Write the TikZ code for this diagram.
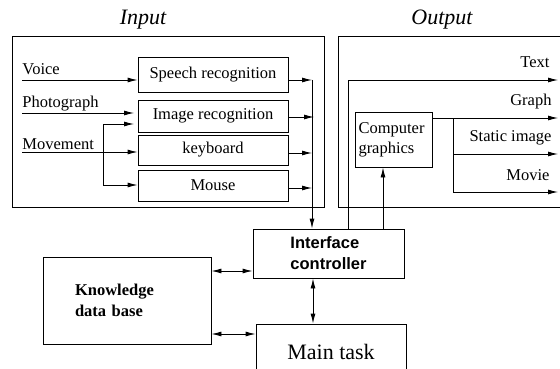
\documentclass[tikz,border=0pt]{standalone}
\usepackage{fontspec}
\setmainfont{Liberation Serif}
\setsansfont{Liberation Sans}
\usetikzlibrary{arrows.meta}
\begin{document}
\begin{tikzpicture}[x=1pt,y=-1pt, line width=0.9pt,
  >={Latex[length=10pt,width=5pt]},
  box/.style={draw, inner sep=0pt, minimum width=150pt},
  lbl/.style={inner sep=0pt, font=\fontsize{16.5}{20}\selectfont},
  ttl/.style={inner sep=0pt, font=\fontsize{22}{26}\selectfont\itshape}]
\useasboundingbox (0,0) rectangle (560,369);

% titles
\node[ttl] (tin) at (143,20) {Input};
\node[ttl] (tout) at (442,20) {Output};

% frames
\node[draw, inner sep=0pt, minimum width=312pt, minimum height=171pt] (inbox) at (168,121.5) {};
\coordinate (oa) at (570,36); \coordinate (ob) at (338,36);
\coordinate (oc) at (338,207); \coordinate (od) at (570,207);
\draw (oa) -- (ob) -- (oc) -- (od);

% input boxes
\node[box, lbl, minimum height=35pt] (speech) at (213,74.5) {Speech recognition};
\node[box, lbl, minimum height=32pt] (image) at (213,116) {Image recognition};
\node[box, lbl, minimum height=30pt] (keyb) at (213,150) {keyboard};
\node[box, lbl, minimum height=31pt] (mouse) at (213,185.5) {Mouse};

% input labels
\node[lbl, anchor=base west] (voice) at (22,75) {Voice};
\node[lbl, anchor=base west] (photo) at (22,107) {Photograph};
\node[lbl, anchor=base west] (move) at (22,149) {Movement};

% central boxes
\node[draw, inner sep=0pt, minimum width=151pt, minimum height=49pt, align=left,
      font=\sffamily\bfseries\fontsize{16.5}{21}\selectfont] (ic) at (328.5,253.5) {Interface\\controller};
\node[draw, inner sep=0pt, minimum width=168pt, minimum height=87pt, text width=104pt, align=left,
      font=\bfseries\fontsize{16.5}{21}\selectfont] (kb) at (127,300.5) {Knowledge\\data base};
\node[draw, inner sep=0pt, minimum width=150pt, minimum height=56pt,
      font=\fontsize{22}{26}\selectfont] (main) at (331,352) {Main task};
\node[draw, lbl, minimum width=77pt, minimum height=55pt, text width=70pt, align=left] (cg) at (393.5,139.5) {Computer\\graphics};

% input arrows
\coordinate (v0) at (22,80);
\draw[->] (v0) -- (v0 -| speech.west);
\coordinate (p0) at (22,113);
\coordinate (p1) at (134,113);
\draw[->] (p0) -- (p1);
\coordinate (m0) at (22,152);
\draw[->] (m0) -- (m0 -| keyb.west);
\coordinate (bt) at (103,124); \coordinate (bb) at (103,185);
\coordinate (bi) at (134,124);
\draw[<->] (bi) -- (bt) -- (bb) -- (bb -| mouse.west);

% collector
\coordinate (ctop) at (312,80);
\draw[->] (ctop) -- (ctop |- ic.north);
\coordinate (so) at ([yshift=-5.5pt]speech.east);
\coordinate (io) at ([yshift=-1pt]image.east);
\coordinate (ko) at ([yshift=-3pt]keyb.east);
\coordinate (mo) at ([yshift=-2.5pt]mouse.east);
\draw[->] (so) -- (so -| ctop);
\draw[->] (io) -- ([xshift=2pt]io -| ctop);
\draw[->] (ko) -- (ko -| ctop);
\draw[->] (mo) -- (mo -| ctop);

% output arrows
\coordinate (tx) at (348,80); \coordinate (tend) at (558,80);
\draw[->] (tx |- ic.north) -- (tx) -- (tend);
\coordinate (cgx) at (383,200);
\draw[->] (cgx |- ic.north) -- (cgx |- cg.south);
\coordinate (gend) at (558,118);
\draw[->] (cg.east |- gend) -- (gend);
\coordinate (bx) at (453,118); \coordinate (send) at (558,154); \coordinate (mend) at (558,192);
\draw[->] (bx) -- (bx |- mend) -- (mend);
\draw[->] (bx |- send) -- (send);

% output labels
\node[lbl, anchor=base east] (ltext) at (550,68) {Text};
\node[lbl, anchor=base east] (lgraph) at (552,106) {Graph};
\node[lbl, anchor=base east] (lstatic) at (552,142) {Static image};
\node[lbl, anchor=base east] (lmovie) at (550,180) {Movie};

% lower connectors
\coordinate (k1) at (0,271); \coordinate (k2) at (0,334); \coordinate (vm) at (313,0);
\draw[<->] (kb.east |- k1) -- (ic.west |- k1);
\draw[<->] (kb.east |- k2) -- (main.west |- k2);
\draw[<->] (vm |- ic.south) -- (vm |- main.north);
\end{tikzpicture}
\end{document}
